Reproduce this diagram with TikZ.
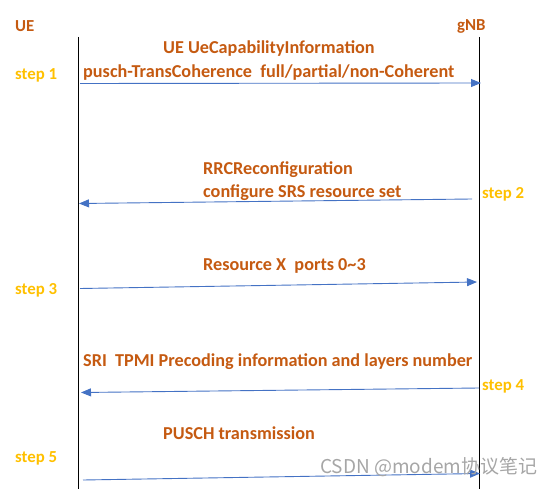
\documentclass[tikz,border=0pt]{standalone}
\usepackage{fontspec}
\setmainfont{Carlito}
\newfontfamily\cjkfont{Noto Sans CJK SC}
\usepackage{tikz}
\usetikzlibrary{arrows.meta,positioning,calc}
\definecolor{lblorange}{HTML}{C55A11}
\definecolor{stepgold}{HTML}{FFC000}
\definecolor{arrowblue}{HTML}{4472C4}
\tikzset{
  actor/.style={font=\fontsize{16.8}{20}\selectfont\bfseries, text=lblorange, inner sep=0pt, anchor=west},
  lbl/.style={font=\fontsize{18.2}{21}\selectfont\bfseries, text=lblorange, inner sep=0pt, anchor=west},
  steplbl/.style={font=\fontsize{16.8}{20}\selectfont\bfseries, text=stepgold, inner sep=0pt, anchor=west},
  msg/.style={draw=arrowblue, line width=0.9pt, -{Triangle[length=10pt,width=8pt]}},
  life/.style={draw, line width=0.9pt}
}
\begin{document}
\begin{tikzpicture}[x=1pt, y=-1pt]
\useasboundingbox (0,0) rectangle (551,489);
% lifelines
\coordinate (ueTop) at (78,37);   \coordinate (ueBot) at (78,489);
\coordinate (gnbTop) at (479,37); \coordinate (gnbBot) at (479,489);
\draw[life] (ueTop) -- (ueBot);
\draw[life] (gnbTop) -- (gnbBot);
\node[actor] (ue) at (15,26) {UE};
\node[actor] (gnb) at (457,26) {gNB};
% steps
\node[steplbl] (s1) at (15,75) {step 1};
\node[steplbl] (s2) at (482,194) {step 2};
\node[steplbl] (s3) at (15,290) {step 3};
\node[steplbl] (s4) at (482,386) {step 4};
\node[steplbl] (s5) at (15,458) {step 5};
% step 1: capability
\node[lbl] (m1a) at (163,49) {UE UeCapabilityInformation};
\node[lbl] (m1b) at (83,73) {pusch-TransCoherence\ \ full/partial/non-Coherent};
\coordinate (a1s) at (80,83.5); \coordinate (a1e) at (481,83);
\draw[msg] (a1s) -- (a1e);
% step 2: srs config
\node[lbl] (m2a) at (203,170) {RRCReconfiguration};
\node[lbl] (m2b) at (203,193) {configure SRS resource set};
\coordinate (a2s) at (472,199); \coordinate (a2e) at (79,203.5);
\draw[msg] (a2s) -- (a2e);
% step 3: srs
\node[lbl] (m3) at (203,266) {Resource X\ \ ports 0\textasciitilde 3};
\coordinate (a3s) at (80,288.5); \coordinate (a3e) at (477,282);
\draw[msg] (a3s) -- (a3e);
% step 4: dci
\node[lbl] (m4) at (83,362) {SRI\ \ TPMI Precoding information and layers number};
\coordinate (a4s) at (479,388); \coordinate (a4e) at (81,392.5);
\draw[msg] (a4s) -- (a4e);
% step 5: pusch
\node[lbl] (m5) at (163,433) {PUSCH transmission};
\coordinate (a5s) at (83,480); \coordinate (a5e) at (480,473.5);
\draw[msg] (a5s) -- (a5e);
\node[font=\cjkfont\fontsize{19}{22}\selectfont, text=black!35, inner sep=0pt, anchor=west] (wm) at (320,467) {CSDN @modem协议笔记};
\end{tikzpicture}
\end{document}
